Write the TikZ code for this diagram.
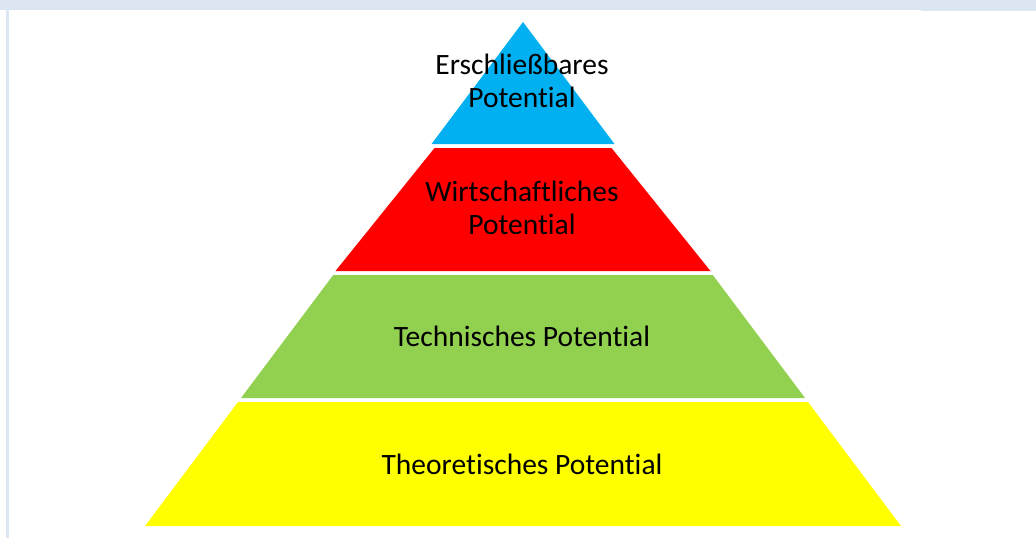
\documentclass[tikz,border=0pt]{standalone}
\usepackage{fontspec}
\setmainfont{Carlito}[Ligatures={NoCommon}]
\definecolor{band}{HTML}{DCE6F2}
\definecolor{lblue}{HTML}{00B0F0}
\definecolor{lred}{HTML}{FF0000}
\definecolor{lgreen}{HTML}{92D050}
\definecolor{lyellow}{HTML}{FFFF00}
\begin{document}
\begin{tikzpicture}[x=1pt,y=-1pt,
  lbl/.style={font=\fontsize{29.5}{33}\selectfont, align=center, text=black, inner sep=0pt}]
\useasboundingbox (0,0) rectangle (1036,538);
\fill[white] (0,0) rectangle (1036,538);
\fill[band] (0,0) rectangle (1036,10);
\fill[band] (921,10) rectangle (1036,11);
\fill[band] (6,10) rectangle (8.5,538);
% pyramid layers: apex (523,22), slope 0.75
\fill[lblue] (523,22) -- (614.5,144) -- (431.5,144) -- cycle;
\fill[lred] (434.5,148) -- (611.5,148) -- (710.5,271) -- (335.5,271) -- cycle;
\fill[lgreen] (333.25,275) -- (712.75,275) -- (805,398) -- (241,398) -- cycle;
\fill[lyellow] (238,402) -- (808,402) -- (901,526) -- (145,526) -- cycle;
\node[lbl] (t1) at (522,81) {Erschließbares\\Potential};
\node[lbl] (t2) at (522,208) {Wirtschaftliches\\Potential};
\node[lbl] (t3) at (522,336) {Technisches Potential};
\node[lbl] (t4) at (522,464) {Theoretisches Potential};
\end{tikzpicture}
\end{document}
